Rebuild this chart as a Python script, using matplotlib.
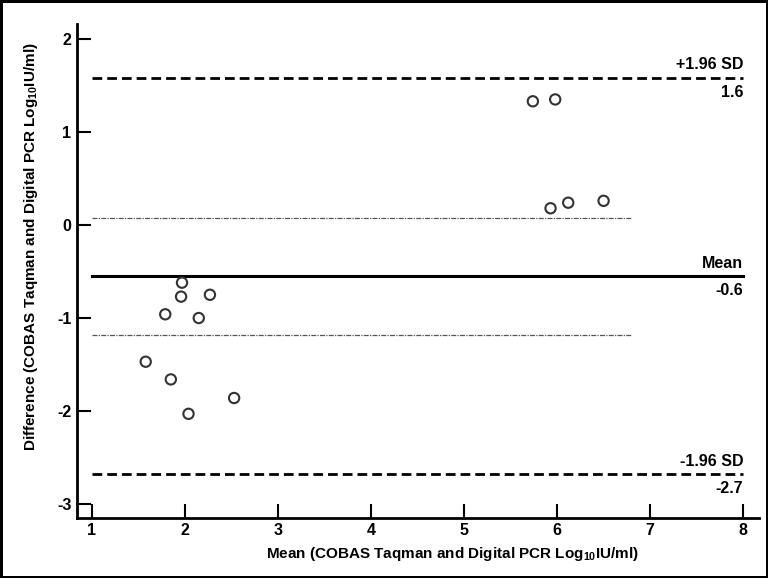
import matplotlib
matplotlib.use('Agg')
import matplotlib.pyplot as plt
from matplotlib import font_manager

# Bland-Altman: COBAS Taqman vs Digital PCR (log10 IU/ml)
mean_vals = [1.58, 1.79, 1.85, 1.96, 1.97, 2.04, 2.15, 2.27, 2.53,
             5.74, 5.98, 5.93, 6.12, 6.50]
diff_vals = [-1.47, -0.96, -1.66, -0.77, -0.62, -2.03, -1.00, -0.75, -1.86,
             1.33, 1.35, 0.18, 0.24, 0.26]

mean_diff = -0.55
upper_loa = 1.58
lower_loa = -2.68
ci_mean = [0.08, -1.18]
ci_x_end = 6.8

line_labels = ['+1.96 SD', 'Mean', '-1.96 SD']
line_values = [upper_loa, mean_diff, lower_loa]
value_labels = ['1.6', '-0.6', '-2.7']

xticks = [1, 2, 3, 4, 5, 6, 7, 8]
yticks = [-3, -2, -1, 0, 1, 2]


def pick_font():
    # want a bold narrow sans; check that the bold file really exists
    for n in ['Liberation Sans Narrow', 'Liberation Sans', 'DejaVu Sans']:
        fp = font_manager.FontProperties(family=n, weight='bold')
        try:
            path = font_manager.findfont(fp, fallback_to_default=False)
        except Exception:
            continue
        if 'bold' in path.lower():
            return n
    return 'DejaVu Sans'


def main():
    fam = pick_font()
    plt.rcParams['font.family'] = [fam, 'DejaVu Sans']
    plt.rcParams['font.weight'] = 'bold'
    plt.rcParams['axes.unicode_minus'] = False
    plt.rcParams['mathtext.fontset'] = 'custom'
    plt.rcParams['mathtext.bf'] = fam + ':bold'
    plt.rcParams['mathtext.rm'] = fam + ':bold'

    fs = 12 if 'Narrow' in fam else 11

    fig = plt.figure(figsize=(7.68, 5.78), dpi=100, linewidth=2.5, edgecolor='black')
    ax = fig.add_axes([0.1003, 0.1043, 0.888, 0.854])

    ax.scatter(mean_vals, diff_vals, s=55, facecolors='none', edgecolors='#333333',
               linewidths=1.5, zorder=3)

    # limits of agreement and mean
    ax.plot([1, 8], [upper_loa, upper_loa], color='black', lw=2, ls=(0, (3.5, 1.8)))
    ax.plot([1, 8], [lower_loa, lower_loa], color='black', lw=2, ls=(0, (3.5, 1.8)))
    ax.plot([1, 8], [mean_diff, mean_diff], color='black', lw=2.2)
    for c in ci_mean:
        ax.plot([1, ci_x_end], [c, c], color='#555555', lw=0.9, ls=(0, (4, 1, 1, 1)))

    for lab, val, vlab in zip(line_labels, line_values, value_labels):
        ax.annotate(lab, (8, val), xytext=(0, 4), textcoords='offset points',
                    ha='right', va='bottom', fontsize=fs + 0.5, fontweight='bold')
        ax.annotate(vlab, (8, val), xytext=(0, -5), textcoords='offset points',
                    ha='right', va='top', fontsize=fs + 0.5, fontweight='bold')

    ax.set_xlim(0.842, 8.17)
    ax.set_ylim(-3.147, 2.16)
    ax.set_xticks(xticks)
    ax.set_yticks(yticks)
    ax.tick_params(direction='in', length=10, width=1.5, labelsize=fs + 0.5, pad=4)
    for lab in ax.get_xticklabels() + ax.get_yticklabels():
        lab.set_fontweight('bold')

    for side in ['top', 'right']:
        ax.spines[side].set_visible(False)
    for side in ['left', 'bottom']:
        ax.spines[side].set_linewidth(2)

    ax.set_xlabel('Mean (COBAS Taqman and Digital PCR Log$_{\\mathbf{10}}$IU/ml)',
                  fontsize=fs, fontweight='bold')
    ax.set_ylabel('Difference (COBAS Taqman and Digital PCR Log$_{\\mathbf{10}}$IU/ml)',
                  fontsize=fs, fontweight='bold')
    ax.xaxis.set_label_coords(0.55, -0.055)
    ax.yaxis.set_label_coords(-0.055, 0.549)

    fig.savefig('out.png', dpi=100, edgecolor=fig.get_edgecolor())


if __name__ == '__main__':
    main()
